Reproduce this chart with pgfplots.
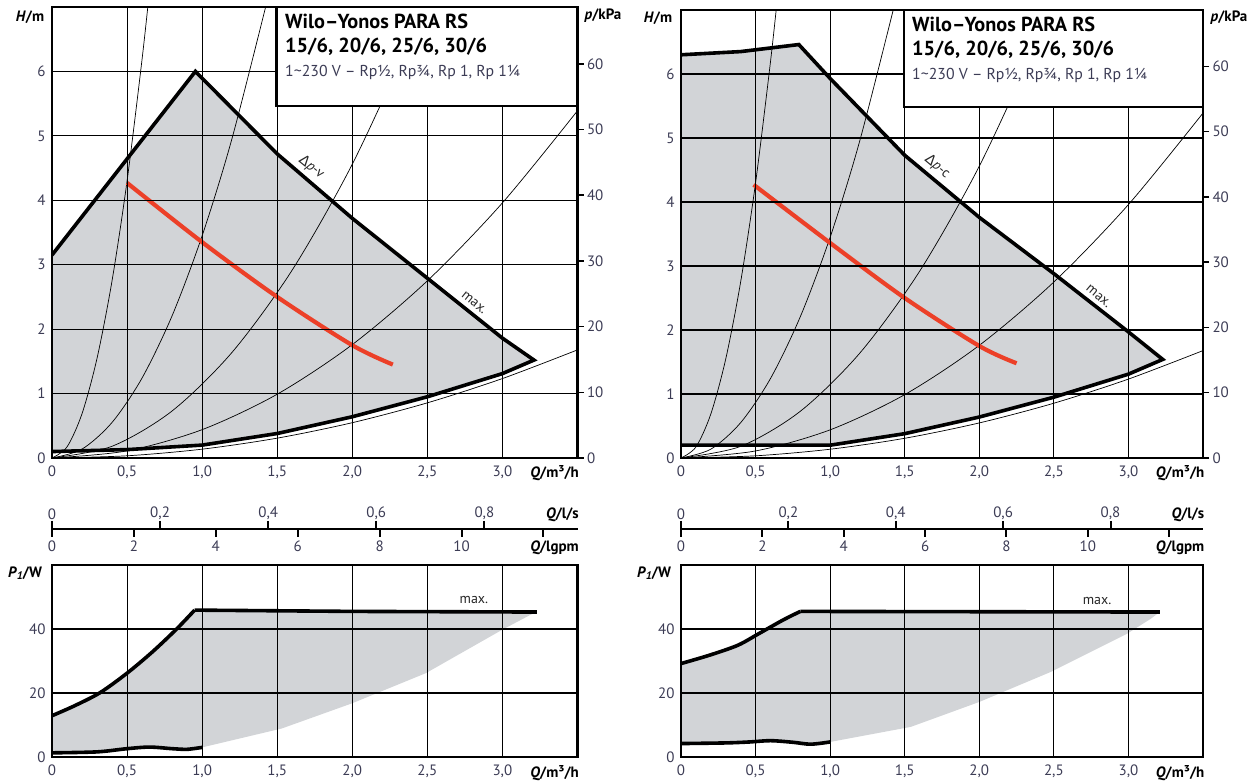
\documentclass[border=0pt]{standalone}
\usepackage{pgfplots}
\pgfplotsset{compat=1.18}
\usepackage{fontspec}
\setmainfont{PT Sans}
\newfontfamily\gr{DejaVu Sans}

\definecolor{panelgray}{RGB}{210,212,215}
\definecolor{curvered}{RGB}{236,64,40}
\definecolor{ticktxt}{RGB}{60,60,85}
\newcommand{\fs}[1]{\fontsize{#1}{#1}\selectfont}

\tikzset{lbl/.style={font=\fs{14}, text=black!85}}

\pgfplotsset{
  pump/.style={
    scale only axis, anchor=south west,
    xmin=0, xmax=3.5,
    axis on top,
    axis line style={line width=2.5pt},
    grid=major,
    major grid style={black, line width=1.1pt},
    major tick length=0pt,
    tick label style={font=\fs{15}, text=ticktxt},
    xticklabel style={yshift=-4pt},
    yticklabel style={xshift=-3pt},
    xtick={0,0.5,1,1.5,2,2.5,3},
    xticklabels={0,{0,5},{1,0},{1,5},{2,0},{2,5},{3,0}},
    /pgf/number format/assume math mode=true,
  },
  kpa/.style={
    scale only axis, anchor=south west,
    xmin=0, xmax=3.5, ymin=0, ymax=68.65,
    axis x line=none, axis y line*=right,
    axis line style={-, line width=2.5pt},
    ytick={0,10,20,30,40,50,60},
    tick align=outside, major tick length=6pt,
    tick style={black, line width=1.5pt},
    tick label style={font=\fs{15}, text=ticktxt},
    /pgf/number format/assume math mode=true,
  },
  lps/.style={
    scale only axis, anchor=north west, height=10pt,
    xmin=0, xmax=3.5, ymin=0, ymax=1,
    hide y axis, axis x line=top,
    axis line style={-, line width=2.2pt},
    every outer x axis line/.append style={-},
    tick align=outside, major tick length=8pt,
    tick style={black, line width=2pt},
    tick label style={font=\fs{15}, text=ticktxt},
    xticklabel style={yshift=-2pt},
    xtick={0,0.72,1.44,2.16,2.88},
    xticklabels={0,{0,2},{0,4},{0,6},{0,8}},
  },
  gpm/.style={
    scale only axis, anchor=south west, height=10pt,
    xmin=0, xmax=3.5, ymin=0, ymax=1,
    hide y axis, axis x line=bottom,
    axis line style={-, line width=2.2pt},
    every outer x axis line/.append style={-},
    tick align=outside, major tick length=8pt,
    tick style={black, line width=2pt},
    tick label style={font=\fs{15}, text=ticktxt},
    xtick={0,0.5455,1.0911,1.6366,2.1821,2.7277,3.2732},
    xticklabels={0,2,4,6,8,10,{}},
  },
  syscurve/.style={black, line width=0.7pt, smooth},
  boldcurve/.style={black, line width=3.6pt, line join=miter},
  redcurve/.style={curvered, line width=4.2pt, smooth},
}

\begin{document}
\begin{tikzpicture}
\useasboundingbox (0,0) rectangle (1258pt,783pt);

% ---------------- left: delta p-v ----------------
\begin{axis}[pump, at={(52pt,325pt)}, width=525.5pt, height=451pt,
  ymin=0, ymax=7, ytick={0,1,2,3,4,5,6}]
  \addplot[fill=panelgray, draw=none] coordinates {
    (0,0.1) (0.5,0.13) (1,0.2) (1.5,0.38) (2,0.64) (2.5,0.95) (3,1.31) (3.21,1.52)
    (3,1.86) (2.5,2.79) (2,3.72) (1.5,4.72) (0.955,6.0) (0,3.15)} -- cycle;
  % system curves
  \addplot[syscurve] coordinates {(0,0) (0.1,0.172) (0.2,0.688) (0.3,1.548) (0.4,2.752) (0.5,4.3) (0.6,6.192) (0.65,7.267)};
  \addplot[syscurve] coordinates {(0,0) (0.2,0.138) (0.4,0.552) (0.6,1.242) (0.8,2.208) (1,3.45) (1.2,4.968) (1.45,7.254)};
  \addplot[syscurve] coordinates {(0,0) (0.4,0.182) (0.8,0.73) (1.2,1.642) (1.6,2.918) (2,4.56) (2.4,6.566) (2.5,7.125)};
  \addplot[syscurve] coordinates {(0,0) (0.5,0.11) (1,0.44) (1.5,0.99) (2,1.76) (2.5,2.75) (3,3.96) (3.5,5.39)};
  \addplot[syscurve] coordinates {(0,0) (0.5,0.034) (1,0.137) (1.5,0.308) (2,0.548) (2.5,0.856) (3,1.233) (3.5,1.678)};
  % pump limits
  \addplot[boldcurve] coordinates {
    (0,3.15) (0.955,6.0) (1.5,4.72) (2,3.72) (2.5,2.79) (3,1.86) (3.21,1.52)
    (3,1.31) (2.5,0.95) (2,0.64) (1.5,0.38) (1,0.2) (0.5,0.13) (0,0.1)};
  \addplot[redcurve] coordinates {(0.5,4.27) (1,3.35) (1.5,2.5) (2,1.75) (2.27,1.45)};
  \node[lbl, rotate=-39, anchor=south, inner sep=6pt] at (axis cs:1.675,4.36) {{\gr Δ}\textit{p}-v};
  \node[lbl, rotate=-39, anchor=south, inner sep=6pt] at (axis cs:2.77,2.29) {max.};
\end{axis}
\begin{axis}[kpa, at={(52pt,325pt)}, width=525.5pt, height=451pt]
\end{axis}

\draw[line width=2.5pt, fill=white] (276.7pt,677pt) rectangle (577.5pt,776pt);
\node[anchor=base west, inner sep=0pt, font=\bfseries\fs{20.3}] at (285pt,754pt) {Wilo–Yonos PARA RS};
\node[anchor=base west, inner sep=0pt, font=\bfseries\fs{20.3}] at (285pt,730pt) {15/6, 20/6, 25/6, 30/6};
\node[anchor=base west, inner sep=0pt, font=\fs{15.8}, text=ticktxt] at (285pt,706pt) {1\textasciitilde 230 V – Rp½, Rp¾, Rp 1, Rp 1¼};

\node[font=\bfseries\fs{15}] at (30pt,766pt) {\textit{H}/m};
\node[font=\bfseries\fs{15}] at (603pt,767pt) {\textit{p}/kPa};
\node[anchor=base east, inner sep=0pt, font=\bfseries\fs{15}] at (579pt,305pt) {\textit{Q}/m³/h};

\begin{axis}[lps, at={(52pt,254pt)}, width=525.5pt]
\end{axis}
\begin{axis}[gpm, at={(52pt,254pt)}, width=525.5pt]
\end{axis}
\node[anchor=base east, inner sep=0pt, font=\bfseries\fs{15}] at (579pt,264pt) {\textit{Q}/l/s};
\node[anchor=base east, inner sep=0pt, font=\bfseries\fs{15}] at (579pt,231pt) {\textit{Q}/lgpm};

\begin{axis}[pump, at={(52pt,26pt)}, width=525.5pt, height=192pt,
  ymin=0, ymax=60, ytick={0,20,40}]
  \addplot[fill=panelgray, draw=none] coordinates {
    (0,1.3) (0.3,1.6) (0.5,2.6) (0.65,3.1) (0.8,2.6) (0.9,2.4) (1,3.0)
    (1.53,8.9) (2,16.8) (2.49,26.2) (3,39.8) (3.19,44.5) (3.23,45.3)
    (2,45.5) (0.95,45.9) (0.83,40) (0.67,32.9) (0.5,26.2) (0.32,20.1) (0.15,16.0) (0,12.9)} -- cycle;
  \addplot[boldcurve, smooth] coordinates {(0,12.9) (0.15,16.0) (0.32,20.1) (0.5,26.2) (0.67,32.9) (0.83,40) (0.95,45.9)};
  \addplot[boldcurve] coordinates {(0.95,45.9) (2,45.5) (3.23,45.3)};
  \addplot[boldcurve, smooth] coordinates {(0,1.3) (0.3,1.6) (0.5,2.6) (0.65,3.1) (0.8,2.6) (0.9,2.4) (1,3.0)};
  \node[lbl] at (axis cs:2.81,49.2) {max.};
\end{axis}
\node[font=\bfseries\fs{15}] at (25pt,210pt) {\textit{P}\raisebox{-0.35ex}{\fs{11}\textit{1}}/W};
\node[anchor=base east, inner sep=0pt, font=\bfseries\fs{15}] at (579pt,5.5pt) {\textit{Q}/m³/h};

% ---------------- right: delta p-c ----------------
\begin{axis}[pump, at={(681pt,325pt)}, width=522pt, height=448pt,
  ymin=0, ymax=7, ytick={0,1,2,3,4,5,6}]
  \addplot[fill=panelgray, draw=none] coordinates {
    (0,0.2) (0.5,0.2) (1,0.2) (1.5,0.38) (2,0.64) (2.5,0.95) (3,1.31) (3.23,1.54)
    (3,1.97) (2.5,2.88) (2,3.76) (1.5,4.73) (1,5.93) (0.79,6.46) (0.4,6.35) (0,6.3)} -- cycle;
  \addplot[syscurve] coordinates {(0,0) (0.1,0.172) (0.2,0.688) (0.3,1.548) (0.4,2.752) (0.5,4.3) (0.6,6.192) (0.65,7.267)};
  \addplot[syscurve] coordinates {(0,0) (0.2,0.138) (0.4,0.552) (0.6,1.242) (0.8,2.208) (1,3.45) (1.2,4.968) (1.45,7.254)};
  \addplot[syscurve] coordinates {(0,0) (0.4,0.182) (0.8,0.73) (1.2,1.642) (1.6,2.918) (2,4.56) (2.4,6.566) (2.5,7.125)};
  \addplot[syscurve] coordinates {(0,0) (0.5,0.11) (1,0.44) (1.5,0.99) (2,1.76) (2.5,2.75) (3,3.96) (3.5,5.39)};
  \addplot[syscurve] coordinates {(0,0) (0.5,0.034) (1,0.137) (1.5,0.308) (2,0.548) (2.5,0.856) (3,1.233) (3.5,1.678)};
  \addplot[boldcurve] coordinates {
    (0,6.3) (0.4,6.35) (0.79,6.46) (1,5.93) (1.5,4.73) (2,3.76) (2.5,2.88) (3,1.97) (3.23,1.54)
    (3,1.31) (2.5,0.95) (2,0.64) (1.5,0.38) (1,0.2) (0,0.2)};
  \addplot[redcurve] coordinates {(0.487,4.27) (1,3.36) (1.5,2.5) (2,1.75) (2.25,1.48)};
  \node[lbl, rotate=-40, anchor=south, inner sep=6pt] at (axis cs:1.664,4.40) {{\gr Δ}\textit{p}-c};
  \node[lbl, rotate=-40, anchor=south, inner sep=6pt] at (axis cs:2.757,2.41) {max.};
\end{axis}
\begin{axis}[kpa, at={(681pt,325pt)}, width=522pt, height=448pt]
\end{axis}

\draw[line width=2.5pt, fill=white] (904pt,676pt) rectangle (1203pt,773pt);
\node[anchor=base west, inner sep=0pt, font=\bfseries\fs{20.3}] at (912pt,751pt) {Wilo–Yonos PARA RS};
\node[anchor=base west, inner sep=0pt, font=\bfseries\fs{20.3}] at (912pt,727pt) {15/6, 20/6, 25/6, 30/6};
\node[anchor=base west, inner sep=0pt, font=\fs{15.8}, text=ticktxt] at (912pt,703pt) {1\textasciitilde 230 V – Rp½, Rp¾, Rp 1, Rp 1¼};

\node[font=\bfseries\fs{15}] at (658pt,765pt) {\textit{H}/m};
\node[font=\bfseries\fs{15}] at (1229pt,765pt) {\textit{p}/kPa};
\node[anchor=base east, inner sep=0pt, font=\bfseries\fs{15}] at (1204.5pt,305pt) {\textit{Q}/m³/h};

\begin{axis}[lps, at={(681pt,254pt)}, width=522pt]
\end{axis}
\begin{axis}[gpm, at={(681pt,254pt)}, width=522pt]
\end{axis}
\node[anchor=base east, inner sep=0pt, font=\bfseries\fs{15}] at (1204.5pt,264pt) {\textit{Q}/l/s};
\node[anchor=base east, inner sep=0pt, font=\bfseries\fs{15}] at (1204.5pt,231pt) {\textit{Q}/lgpm};

\begin{axis}[pump, at={(681pt,26pt)}, width=522pt, height=192pt,
  ymin=0, ymax=60, ytick={0,20,40}]
  \addplot[fill=panelgray, draw=none] coordinates {
    (0,4.2) (0.3,4.4) (0.46,4.7) (0.6,5.1) (0.75,4.6) (0.87,4.0) (1,4.7)
    (1.54,9.4) (2,17.2) (2.48,26.6) (2.99,38.5) (3.15,43.2) (3.21,45.3)
    (2,45.4) (0.8,45.5) (0.68,42.7) (0.52,38.5) (0.38,34.9) (0.19,31.8) (0,29.2)} -- cycle;
  \addplot[boldcurve, smooth] coordinates {(0,29.2) (0.19,31.8) (0.38,34.9) (0.52,38.5) (0.68,42.7) (0.8,45.5)};
  \addplot[boldcurve] coordinates {(0.8,45.5) (2,45.4) (3.21,45.3)};
  \addplot[boldcurve, smooth] coordinates {(0,4.2) (0.3,4.4) (0.46,4.7) (0.6,5.1) (0.75,4.6) (0.87,4.0) (1,4.7)};
  \node[lbl] at (axis cs:2.79,48.6) {max.};
\end{axis}
\node[font=\bfseries\fs{15}] at (654pt,210pt) {\textit{P}\raisebox{-0.35ex}{\fs{11}\textit{1}}/W};
\node[anchor=base east, inner sep=0pt, font=\bfseries\fs{15}] at (1204.5pt,5.5pt) {\textit{Q}/m³/h};
\end{tikzpicture}
\end{document}
